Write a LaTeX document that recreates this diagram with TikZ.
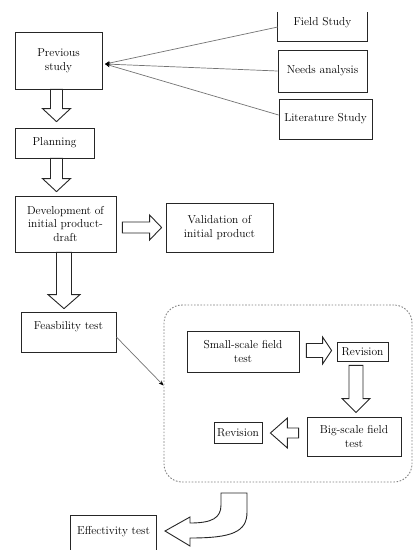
\documentclass[tikz,border=0pt]{standalone}
\usetikzlibrary{calc,arrows.meta}
\newcommand\dfont{\fontsize{11.5}{13.5}\selectfont}
\newcommand\hollowarr[5]{%
  \coordinate (ha-h) at ($(#2)!#5!(#1)$);
  \draw[hollow] ($(#1)!#3!90:(#2)$) -- ($(ha-h)!#3!90:(#2)$) -- ($(ha-h)!#4!90:(#2)$)
    -- (#2) -- ($(ha-h)!#4!-90:(#2)$) -- ($(ha-h)!#3!-90:(#2)$) -- ($(#1)!#3!-90:(#2)$) -- cycle;}
\begin{document}
\begin{tikzpicture}[x=1pt,y=-1pt,
  box/.style={draw=black!85, line width=0.8pt, align=center, inner sep=1pt, font=\dfont},
  openbox/.style={align=center, inner sep=1pt, font=\dfont},
  hollow/.style={draw=black!85, line width=0.9pt, fill=white, line join=miter},
  thinline/.style={draw=black!55, line width=0.7pt},
  tip/.style={-{Stealth[length=5pt,width=4pt,black]}},
  group/.style={draw=black!50, line width=0.9pt, dash pattern=on 1.6pt off 1.6pt, rounded corners=18pt}]
\useasboundingbox (0,0) rectangle (417,550);

% nodes
\node[box, minimum width=87, minimum height=57] (prev) at (58.5,60.5) {Previous\\study};
\node[openbox, minimum width=89, minimum height=36] (field) at (322.5,23) {Field Study};
\draw[draw=black!85, line width=0.8pt] ([yshift=-7pt]field.north west) -- (field.south west) -- (field.south east) -- ([yshift=-7pt]field.north east);
\node[box, minimum width=89, minimum height=42] (needs) at (322.5,71) {Needs analysis};
\node[box, minimum width=93, minimum height=40] (lit) at (325.5,119) {Literature Study};
\node[box, minimum width=79, minimum height=30] (plan) at (54.5,143) {Planning};
\node[box, minimum width=101, minimum height=56] (dev) at (65.5,224) {Development of\\initial product-\\draft};
\node[box, minimum width=107, minimum height=49] (val) at (219.5,227.5) {Validation of\\initial product};
\node[box, minimum width=95, minimum height=40] (feas) at (68.5,332) {Feasbility test\\ \mbox{}};
\node[group, minimum width=248, minimum height=177] (grp) at (288,393.5) {};
\node[box, minimum width=112, minimum height=41] (ss) at (243,351.5) {Small-scale field\\test};
\node[box, minimum width=51, minimum height=19] (rev1) at (362.5,351.5) {Revision};
\node[box, minimum width=94, minimum height=39] (bs) at (354,436.5) {Big-scale field\\test};
\node[box, minimum width=48, minimum height=21] (rev2) at (238,432.5) {Revision};
\node[openbox, minimum width=85, minimum height=42] (eff) at (113.5,537) {Effectivity test\\ \mbox{}};
\draw[draw=black!85, line width=0.8pt] ([yshift=8pt]eff.south west) -- (eff.north west) -- (eff.north east) -- ([yshift=8pt]eff.south east);

% thin connectors
\coordinate (hub) at (105,64);
\draw[thinline, tip] ([yshift=-4pt]field.west) -- (hub);
\draw[thinline, tip] (needs.west) -- (hub);
\draw[thinline, tip] ([yshift=4pt]lit.west) -- (hub);
\draw[thinline, tip] ([yshift=-5pt]feas.east) -- ([yshift=8pt]grp.west);

% hollow arrows
\coordinate (a1t) at ($(plan.north |- prev.south)+(2,0)$);
\coordinate (a1h) at ($(plan.north)+(2,-6)$);
\hollowarr{a1t}{a1h}{6pt}{14pt}{13pt}
\coordinate (a2t) at ($(plan.south)+(2,0)$);
\coordinate (a2h) at ($(plan.south |- dev.north)+(2,-4)$);
\hollowarr{a2t}{a2h}{6pt}{14pt}{13pt}
\coordinate (a3t) at ($(dev.east |- val.west)+(6,0)$);
\coordinate (a3h) at ($(val.west)+(-4,0)$);
\hollowarr{a3t}{a3h}{5.5pt}{12.5pt}{12pt}
\coordinate (a4t) at ($(dev.south)+(-1.5,0)$);
\coordinate (a4h) at ($(dev.south |- feas.north)+(-1.5,-3)$);
\hollowarr{a4t}{a4h}{7.5pt}{16pt}{14pt}
\coordinate (a5t) at ($(ss.east)+(7,-1)$);
\coordinate (a5h) at ($(rev1.west)+(-5,-1)$);
\hollowarr{a5t}{a5h}{7pt}{13.5pt}{9pt}
\coordinate (a6t) at ($(bs.north |- rev1.south)+(2,4)$);
\coordinate (a6h) at ($(bs.north)+(2,-4)$);
\hollowarr{a6t}{a6h}{7pt}{14pt}{14pt}
\coordinate (a7t) at ($(bs.west |- rev2.east)+(-8,0.5)$);
\coordinate (a7h) at ($(rev2.east)+(8,0.5)$);
\hollowarr{a7t}{a7h}{5pt}{15pt}{17pt}

% curved hollow arrow
\draw[hollow] (221,493) -- (247,493) -- (247,512) .. controls (247,532) and (232,538) .. (190,538)
  -- (190,546) -- (165,531) -- (190,517) -- (190,523) .. controls (212,523) and (221,518) .. (221,505) -- cycle;
\end{tikzpicture}
\end{document}
